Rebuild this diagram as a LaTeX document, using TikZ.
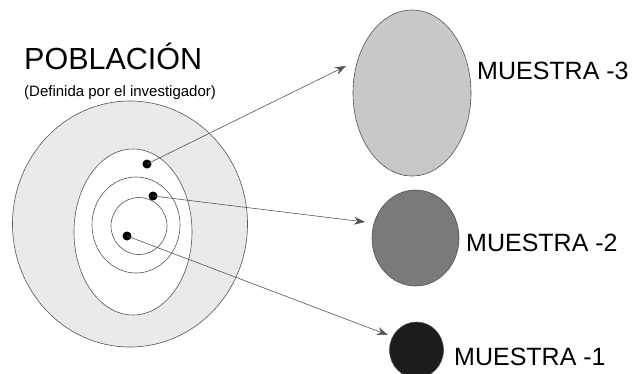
\documentclass[tikz,border=0pt]{standalone}
\usepackage{fontspec}
\setmainfont{Liberation Sans}
\usetikzlibrary{shapes.geometric,arrows.meta}
\definecolor{lineg}{RGB}{85,85,85}
\definecolor{ringfill}{RGB}{234,234,234}
\definecolor{mthree}{RGB}{200,200,200}
\definecolor{mtwo}{RGB}{122,122,122}
\definecolor{mone}{RGB}{28,28,28}
\tikzset{
  oval/.style={ellipse, draw=lineg, line width=0.6pt, inner sep=0pt},
  dotnode/.style={circle, fill=black, inner sep=0pt, minimum size=9pt},
  link/.style={draw=lineg, line width=0.6pt, -{Stealth[length=11pt,width=8pt]}},
  label/.style={anchor=base west, inner sep=0pt, text=black},
}
\begin{document}
\begin{tikzpicture}[x=1pt,y=-1pt]
\useasboundingbox (0,0) rectangle (636,373);
% population
\node[oval, fill=ringfill, minimum width=235pt, minimum height=246pt] (pop) at (130,224) {};
\node[oval, fill=white, minimum width=118pt, minimum height=166pt] (e2) at (133,232) {};
\node[oval, minimum width=88pt, minimum height=96pt] (e3) at (136,225) {};
\node[oval, minimum width=56pt, minimum height=57pt] (e4) at (139,226) {};
\node[dotnode] (d3) at (147,164) {};
\node[dotnode] (d2) at (153,196) {};
\node[dotnode] (d1) at (127,236) {};
% samples
\node[oval, fill=mthree, minimum width=118pt, minimum height=166pt] (m3) at (412,93) {};
\node[oval, fill=mtwo, minimum width=87pt, minimum height=96pt] (m2) at (415.5,238) {};
\node[oval, fill=mone, minimum width=54pt, minimum height=56pt] (m1) at (416.5,350) {};
% arrow tips
\coordinate (t3) at (346,66);
\coordinate (t2) at (365,222);
\coordinate (t1) at (388,335);
\draw[link] (d3.center) -- (t3);
\draw[link] (d2.center) -- (t2);
\draw[link] (d1.center) -- (t1);
% texts
\node[label, font=\fontsize{30.5}{32}\selectfont] (title) at (24,69) {POBLACIÓN};
\node[label, font=\fontsize{15}{16}\selectfont] (sub) at (24,96) {(Definida por el investigador)};
\node[label, font=\fontsize{25}{27}\selectfont] (l3) at (477,79) {MUESTRA -3};
\node[label, font=\fontsize{25}{27}\selectfont] (l2) at (466,251) {MUESTRA -2};
\node[label, font=\fontsize{25}{27}\selectfont] (l1) at (454,365) {MUESTRA -1};
\end{tikzpicture}
\end{document}
